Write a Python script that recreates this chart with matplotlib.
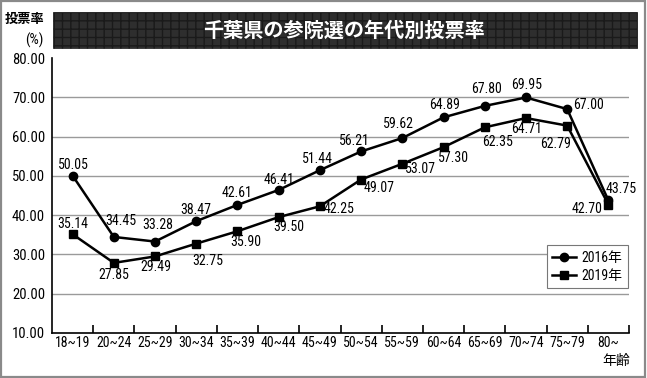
import matplotlib
matplotlib.use("Agg")
from matplotlib import pyplot as plt, patches

plt.rcParams["font.family"] = ["Roboto Condensed", "Noto Sans CJK JP", "DejaVu Sans"]

ages = ["18~19", "20~24", "25~29", "30~34", "35~39", "40~44", "45~49",
        "50~54", "55~59", "60~64", "65~69", "70~74", "75~79", "80~"]
rate_2016 = [50.05, 34.45, 33.28, 38.47, 42.61, 46.41, 51.44,
             56.21, 59.62, 64.89, 67.80, 69.95, 67.00, 43.75]
rate_2019 = [35.14, 27.85, 29.49, 32.75, 35.90, 39.50, 42.25,
             49.07, 53.07, 57.30, 62.35, 64.71, 62.79, 42.70]
yticks = [10, 20, 30, 40, 50, 60, 70, 80]

# label offsets in pixels (dx, dy)
off_2016 = [(1, 11), (7, 16), (3, 17), (0, 11), (0, 12), (0, 10), (-2, 11),
            (-7, 10), (-4, 14), (1, 12), (2, 17), (1, 12), (21, 4), (13, 11)]
off_2019 = [(0, 10), (0, -12), (1, -11), (12, -17), (8, -11), (10, -10), (19, -3),
            (18, -8), (18, -5), (10, -11), (13, -15), (1, -11), (-12, -18), (-21, -4)]

W, H = 647, 378
fig = plt.figure(figsize=(W / 100, H / 100), dpi=100)

def fx(px):
    return px / W

def fy(py):
    return 1 - py / H

# outer border
fig.patches.append(patches.Rectangle((0.002, 0.003), 0.995, 0.994, transform=fig.transFigure,
                                     fill=False, edgecolor="#8a8a8a", linewidth=1.6))

# title banner
banner = patches.Rectangle((fx(53), fy(48)), fx(637) - fx(53), fy(12) - fy(48),
                           transform=fig.transFigure, facecolor="#2e2e2e",
                           edgecolor="#1a1a1a", hatch="++", linewidth=0.5)
fig.patches.append(banner)
fig.text(fx(344), fy(30), "千葉県の参院選の年代別投票率", color="white", fontsize=14.5,
         fontweight="bold", ha="center", va="center", family=["Noto Sans CJK JP"])

fig.text(fx(25), fy(19), "投票率", fontsize=9.5, fontweight="bold", ha="center", va="center",
         family=["Noto Sans CJK JP"])
fig.text(fx(43), fy(40), "(%)", fontsize=10.5, ha="right", va="center")
fig.text(fx(630), fy(361), "年齢", fontsize=10, ha="right", va="center",
         family=["Noto Sans CJK JP"])

ax = fig.add_axes([fx(52), fy(333), fx(629) - fx(52), fy(58) - fy(333)])
x = list(range(len(ages)))

ax.set_xlim(-0.5, len(ages) - 0.5)
ax.set_ylim(10, 80)
for v in yticks[1:-1]:
    ax.axhline(v, color="#9a9a9a", linewidth=1.0, zorder=0)

ax.plot(x, rate_2016, color="black", linewidth=1.8, marker="o", markersize=6,
        label="2016年", zorder=3)
ax.plot(x, rate_2019, color="black", linewidth=1.8, marker="s", markersize=6.3,
        label="2019年", zorder=3)

for i in x:
    ax.annotate(f"{rate_2016[i]:.2f}", (i, rate_2016[i]), xytext=off_2016[i],
                textcoords="offset pixels", ha="center", va="center", fontsize=10)
    ax.annotate(f"{rate_2019[i]:.2f}", (i, rate_2019[i]), xytext=off_2019[i],
                textcoords="offset pixels", ha="center", va="center", fontsize=10)

ax.set_yticks(yticks)
ax.set_yticklabels([f"{v:.2f}" for v in yticks], fontsize=10.5)
ax.tick_params(axis="y", length=0, pad=5)

# category labels centered, tick marks on boundaries
ax.set_xticks(x)
ax.set_xticklabels(ages, fontsize=10)
ax.tick_params(axis="x", length=0, pad=2)
ax.set_xticks([i + 0.5 for i in x], minor=True)
ax.tick_params(axis="x", which="minor", direction="in", length=6, width=1.2, color="black")

for s in ["top", "right"]:
    ax.spines[s].set_visible(False)
ax.spines["left"].set_linewidth(1.2)
ax.spines["bottom"].set_linewidth(1.2)

leg = ax.legend(loc="upper right", bbox_to_anchor=(fx(628), fy(245)),
                bbox_transform=fig.transFigure, fontsize=10, fancybox=False,
                edgecolor="#777777", handlelength=1.7, handletextpad=0.4,
                borderpad=0.4, labelspacing=0.3, framealpha=1, borderaxespad=0)
leg.get_frame().set_linewidth(0.8)

fig.savefig("out.png", dpi=100)
